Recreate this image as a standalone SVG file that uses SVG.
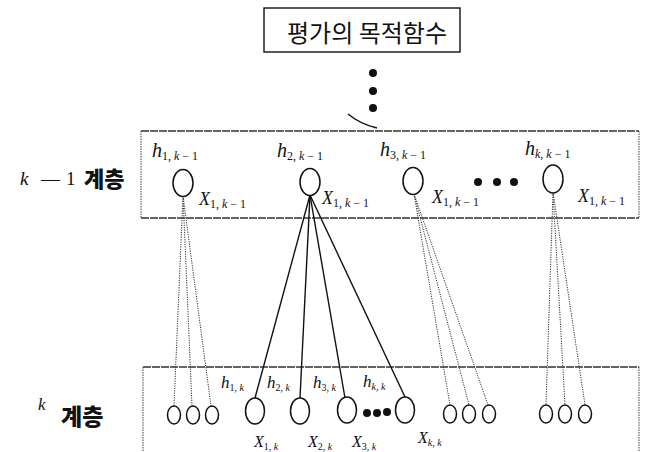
<svg xmlns="http://www.w3.org/2000/svg" width="648" height="452" viewBox="0 0 648 452">
<style>
.bg{fill:#fff}
.hline{fill:none;stroke:#333;stroke-width:1.3;stroke-dasharray:8 1}
.vline{fill:none;stroke:#555;stroke-width:1.1;stroke-dasharray:1.5 1}
.title{fill:none;stroke:#111;stroke-width:1.4}
.ko{font-family:"Noto Sans CJK KR","Noto Sans",sans-serif;fill:#111}
.m{font-family:"Liberation Serif","DejaVu Serif",serif;font-style:italic;fill:#111}
.n{font-style:normal}
.node{fill:#fff;stroke:#111;stroke-width:1.5}
.dot{fill:#111}
.solid{stroke:#111;stroke-width:1.4;fill:none}
.dotted{stroke:#333;stroke-width:1;stroke-dasharray:1.2 1.2;fill:none}
</style>
<rect class="bg" x="0" y="0" width="648" height="452"/>

<g id="objective">
<rect class="title" x="264" y="8" width="196" height="44"/>
<text class="ko" x="367" y="42" font-size="24" text-anchor="middle">평가의 목적함수</text>
</g>

<g id="vdots">
<circle class="dot" cx="373" cy="73" r="4"/>
<circle class="dot" cx="373" cy="91" r="4"/>
<circle class="dot" cx="373" cy="108" r="4"/>
<path class="solid" d="M348,114 Q360,124 377,128" stroke-width="1"/>
</g>

<g id="layer-k-1">
<path class="hline" d="M141,131 H639 M141,218 H639"/>
<path class="vline" d="M141,131 V218 M639,131 V218"/>
<text class="m" x="20" y="185" font-size="19">k</text>
<text class="m n" x="41" y="185" font-size="19">—</text>
<text class="m n" x="66" y="185" font-size="19">1</text>
<text class="ko" x="84" y="187" font-size="22" font-weight="900">계층</text>
</g>

<g id="layer-k">
<path class="hline" d="M143,367 H639"/>
<path class="vline" d="M143,367 V452 M639,367 V452"/>
<text class="m" x="38" y="410" font-size="17">k</text>
<text class="ko" x="61" y="425" font-size="23" font-weight="900">계층</text>
</g>

<g id="connectors">
<line class="dotted" x1="183" y1="196" x2="174" y2="406"/>
<line class="dotted" x1="183" y1="196" x2="192" y2="406"/>
<line class="dotted" x1="183" y1="196" x2="211" y2="406"/>
<line class="solid" x1="310" y1="195" x2="255" y2="398"/>
<line class="solid" x1="310" y1="195" x2="300" y2="398"/>
<line class="solid" x1="310" y1="195" x2="345" y2="398"/>
<line class="solid" x1="310" y1="195" x2="405" y2="397"/>
<line class="dotted" x1="414" y1="194" x2="450" y2="405"/>
<line class="dotted" x1="414" y1="194" x2="469" y2="405"/>
<line class="dotted" x1="414" y1="194" x2="488" y2="405"/>
<line class="dotted" x1="553" y1="192" x2="546" y2="405"/>
<line class="dotted" x1="553" y1="192" x2="565" y2="405"/>
<line class="dotted" x1="553" y1="192" x2="585" y2="405"/>
</g>

<g id="h1k-1">
<ellipse class="node" cx="183" cy="183" rx="10" ry="13.5"/>
<text class="m" x="152" y="157" font-size="20">h<tspan font-size="12" dy="3"><tspan class="n">1, </tspan>k<tspan class="n"> − 1</tspan></tspan></text>
<text class="m" x="199" y="205" font-size="18">X<tspan font-size="12" dy="3"><tspan class="n">1, </tspan>k<tspan class="n"> − 1</tspan></tspan></text>
</g>
<g id="h2k-1">
<ellipse class="node" cx="310" cy="182" rx="10" ry="13.5"/>
<text class="m" x="277" y="157" font-size="20">h<tspan font-size="12" dy="3"><tspan class="n">2, </tspan>k<tspan class="n"> − 1</tspan></tspan></text>
<text class="m" x="322" y="204" font-size="18">X<tspan font-size="12" dy="3"><tspan class="n">1, </tspan>k<tspan class="n"> − 1</tspan></tspan></text>
</g>
<g id="h3k-1">
<ellipse class="node" cx="413" cy="181" rx="10" ry="13.5"/>
<text class="m" x="380" y="156" font-size="20">h<tspan font-size="12" dy="3"><tspan class="n">3, </tspan>k<tspan class="n"> − 1</tspan></tspan></text>
<text class="m" x="432" y="203" font-size="18">X<tspan font-size="12" dy="3"><tspan class="n">1, </tspan>k<tspan class="n"> − 1</tspan></tspan></text>
</g>
<g id="hdots-upper">
<circle class="dot" cx="478" cy="182" r="4"/>
<circle class="dot" cx="497" cy="182" r="4"/>
<circle class="dot" cx="514" cy="182" r="4"/>
</g>
<g id="hkk-1">
<ellipse class="node" cx="553" cy="179" rx="10" ry="14"/>
<text class="m" x="525" y="155" font-size="20">h<tspan font-size="12" dy="3">k<tspan class="n">, </tspan>k<tspan class="n"> − 1</tspan></tspan></text>
<text class="m" x="578" y="202" font-size="18">X<tspan font-size="12" dy="3"><tspan class="n">1, </tspan>k<tspan class="n"> − 1</tspan></tspan></text>
</g>

<g id="small-group-1">
<ellipse class="node" cx="174" cy="415" rx="6.5" ry="9"/>
<ellipse class="node" cx="193" cy="415" rx="6.5" ry="9"/>
<ellipse class="node" cx="212" cy="415" rx="6.5" ry="9"/>
</g>
<g id="h1k">
<ellipse class="node" cx="255" cy="411" rx="9.5" ry="13"/>
<text class="m" x="221" y="388" font-size="17">h<tspan font-size="10" dy="3"><tspan class="n">1, </tspan>k</tspan></text>
<text class="m" x="254" y="447" font-size="16">X<tspan font-size="10" dy="3"><tspan class="n">1, </tspan>k</tspan></text>
</g>
<g id="h2k">
<ellipse class="node" cx="300" cy="411" rx="9.5" ry="13"/>
<text class="m" x="267" y="388" font-size="17">h<tspan font-size="10" dy="3"><tspan class="n">2, </tspan>k</tspan></text>
<text class="m" x="308" y="447" font-size="16">X<tspan font-size="10" dy="3"><tspan class="n">2, </tspan>k</tspan></text>
</g>
<g id="h3k">
<ellipse class="node" cx="347" cy="410" rx="9.5" ry="13"/>
<text class="m" x="313" y="388" font-size="17">h<tspan font-size="10" dy="3"><tspan class="n">3, </tspan>k</tspan></text>
<text class="m" x="352" y="447" font-size="16">X<tspan font-size="10" dy="3"><tspan class="n">3, </tspan>k</tspan></text>
</g>
<g id="hdots-lower">
<circle class="dot" cx="367" cy="413" r="4"/>
<circle class="dot" cx="377" cy="413" r="4"/>
<circle class="dot" cx="387" cy="412" r="4"/>
</g>
<g id="hkk">
<ellipse class="node" cx="405" cy="410" rx="9.5" ry="13"/>
<text class="m" x="363" y="387" font-size="17">h<tspan font-size="10" dy="3">k<tspan class="n">, </tspan>k</tspan></text>
<text class="m" x="418" y="443" font-size="16">X<tspan font-size="10" dy="3">k<tspan class="n">, </tspan>k</tspan></text>
</g>
<g id="small-group-2">
<ellipse class="node" cx="450" cy="414" rx="6.5" ry="9"/>
<ellipse class="node" cx="469" cy="414" rx="6.5" ry="9"/>
<ellipse class="node" cx="489" cy="414" rx="6.5" ry="9"/>
</g>
<g id="small-group-3">
<ellipse class="node" cx="546" cy="414" rx="6.5" ry="9"/>
<ellipse class="node" cx="565" cy="414" rx="6.5" ry="9"/>
<ellipse class="node" cx="585" cy="414" rx="6.5" ry="9"/>
</g>
</svg>
